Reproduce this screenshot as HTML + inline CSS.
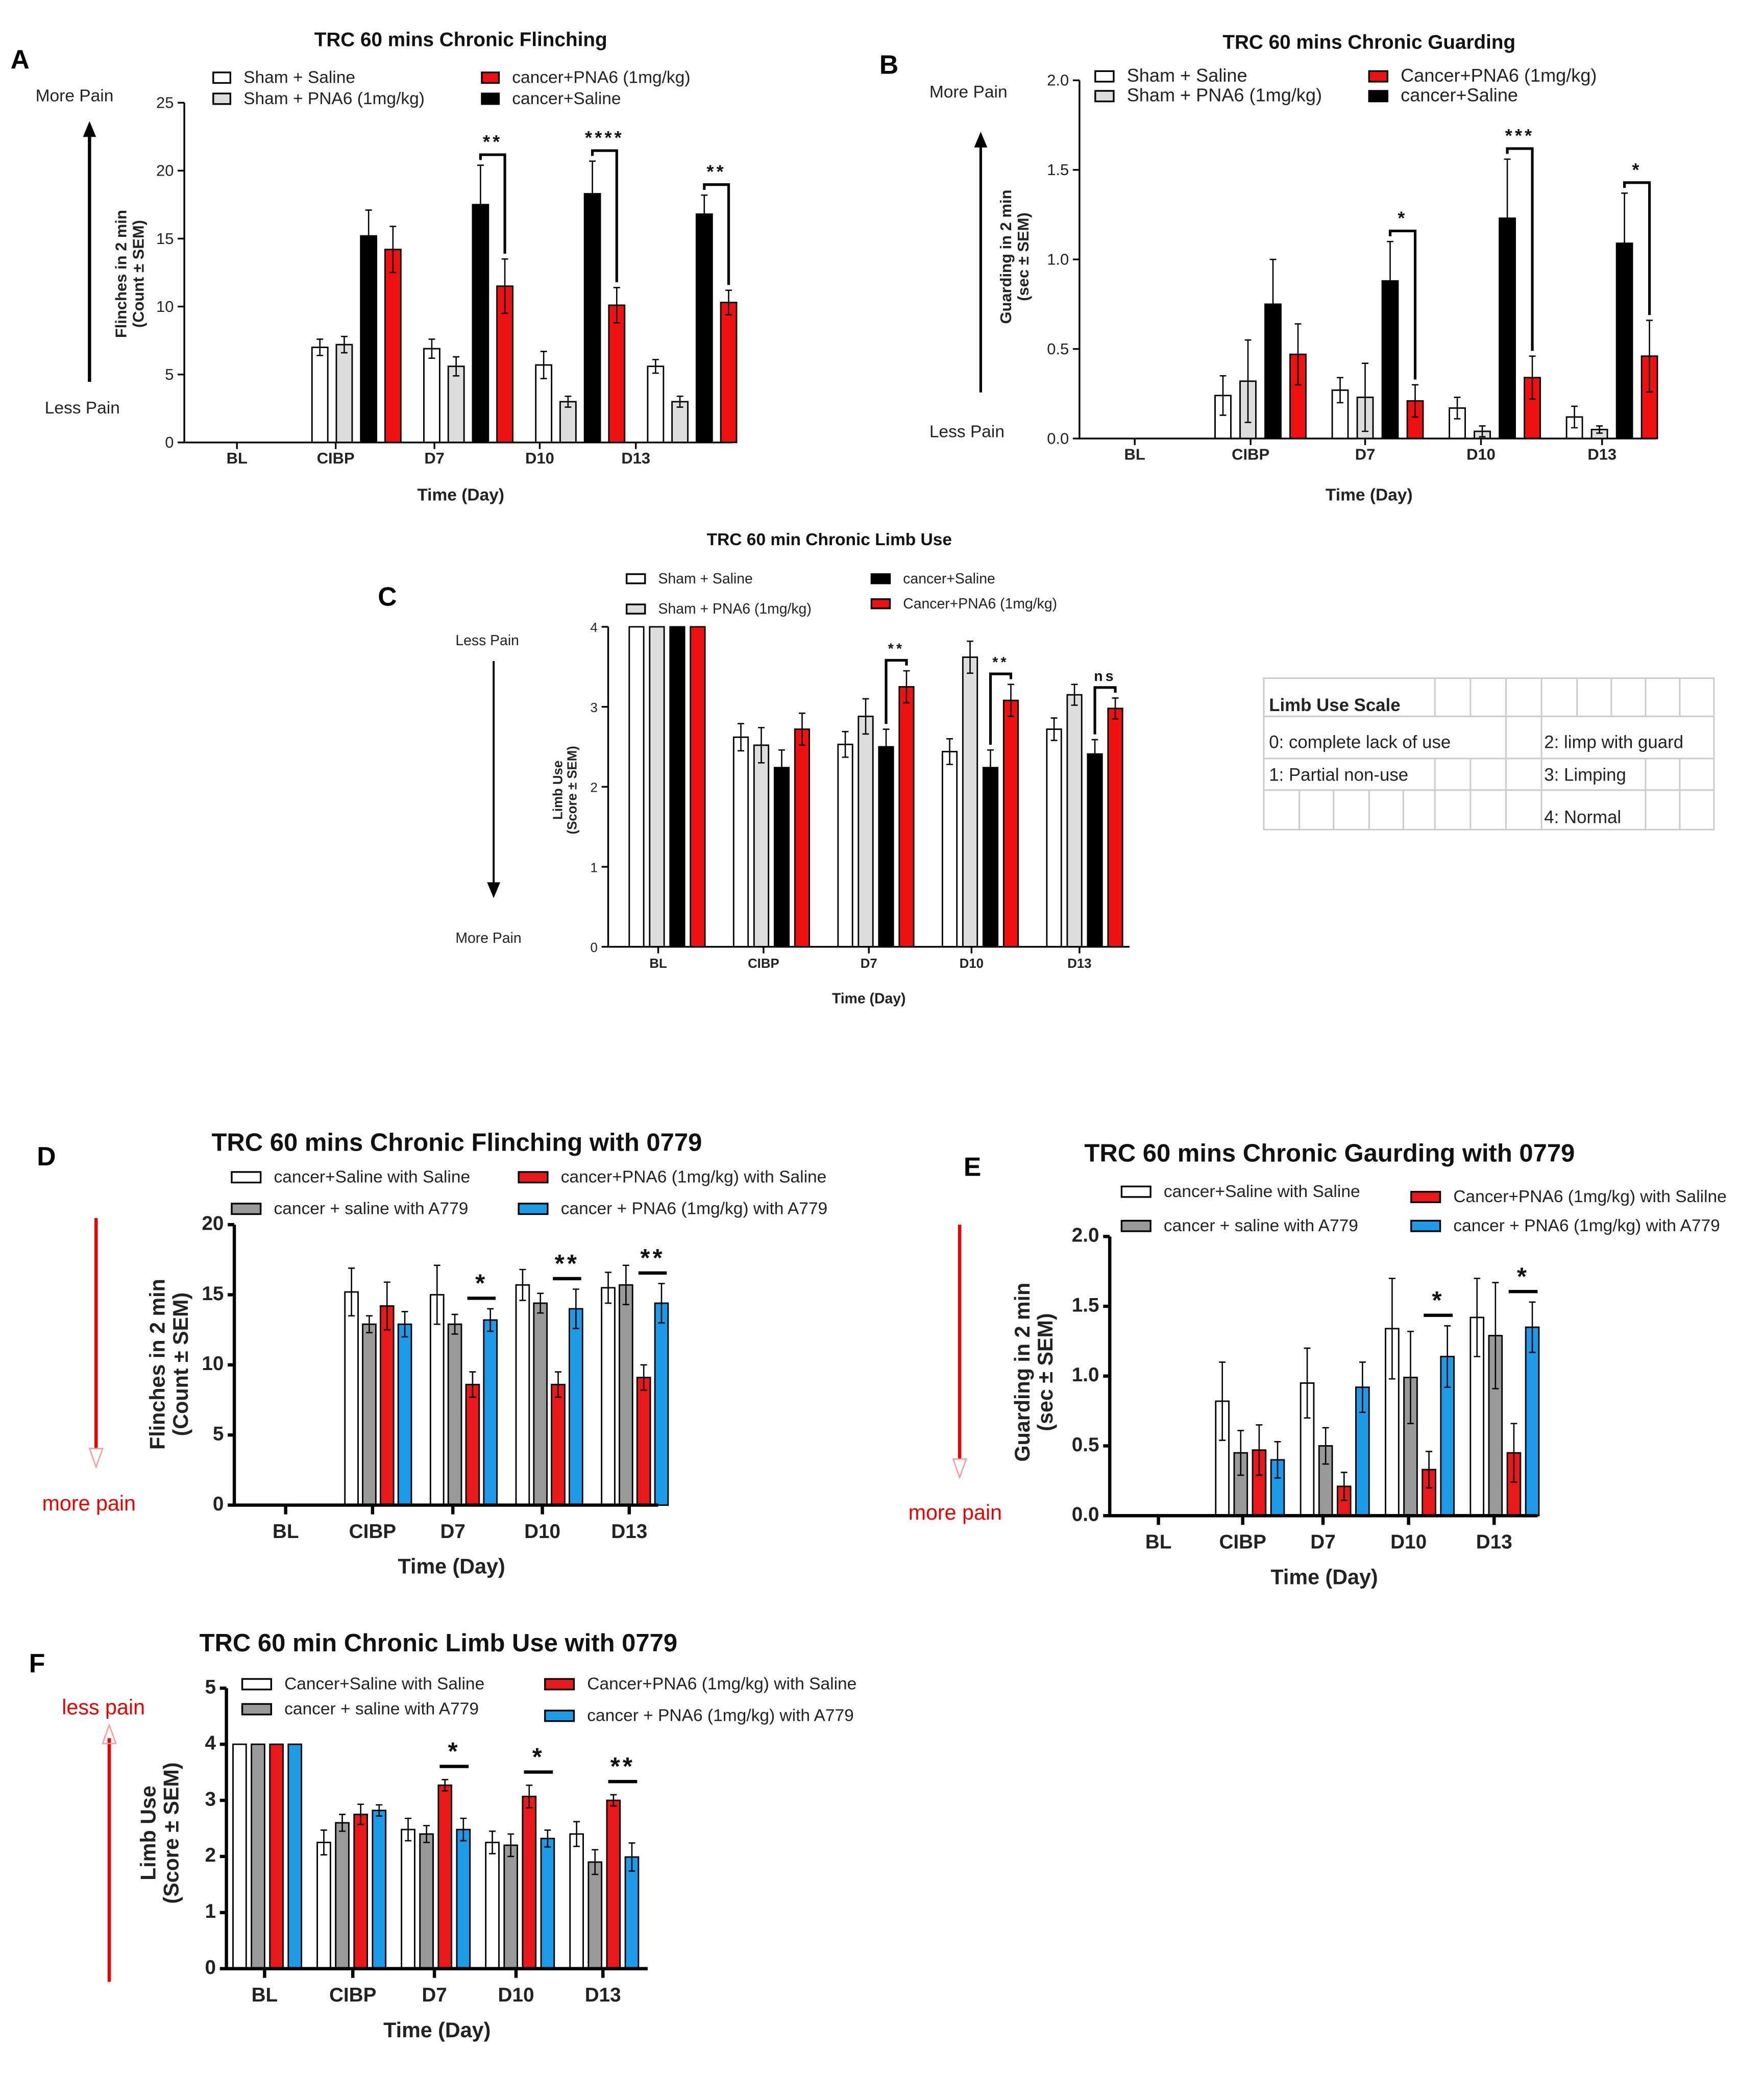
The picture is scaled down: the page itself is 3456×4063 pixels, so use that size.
<!DOCTYPE html>
<html><head><meta charset="utf-8"><style>
html,body{margin:0;padding:0;background:#fff;}
svg{display:block;}
text{font-family:"Liberation Sans",Arial,sans-serif;}
</style></head><body>
<svg id="fig" width="3456" height="4063" viewBox="0 0 1340 1575" preserveAspectRatio="none" xmlns="http://www.w3.org/2000/svg">
<g font-weight="bold" font-size="20">
<text x="8" y="52">A</text>
<text x="668" y="56">B</text>
<text x="287" y="460">C</text>
<text x="28" y="885">D</text>
<text x="732" y="893">E</text>
<text x="22" y="1270">F</text>
</g>
<g font-size="13" fill="#222">
<text x="27" y="77">More  Pain</text>
<line x1="68" y1="290" x2="68" y2="100" stroke="#000" stroke-width="2.5"/><polygon points="63,104 73,104 68,92" fill="#000"/>
<text x="34" y="314">Less Pain</text>
<text x="706" y="74">More  Pain</text>
<line x1="745" y1="298" x2="745" y2="108" stroke="#000" stroke-width="2"/><polygon points="740,112 750,112 745,100" fill="#000"/>
<text x="706" y="332">Less Pain</text>
<text x="346" y="490" font-size="11">Less Pain</text>
<line x1="375" y1="502" x2="375" y2="674" stroke="#000" stroke-width="1.5"/><polygon points="370,670 380,670 375,682" fill="#000"/>
<text x="346" y="716" font-size="11">More Pain</text>
<line x1="73" y1="925" x2="73" y2="1100" stroke="#e00" stroke-width="2.5"/><polygon points="68,1100 78,1100 73,1114" fill="none" stroke="#f99"/>
<text x="32" y="1147" fill="#e00" font-size="16">more pain</text>
<line x1="729" y1="930" x2="729" y2="1108" stroke="#e00" stroke-width="2.5"/><polygon points="724,1108 734,1108 729,1122" fill="none" stroke="#f99"/>
<text x="690" y="1154" fill="#e00" font-size="16">more pain</text>
<text x="47" y="1302" fill="#e00" font-size="16">less pain</text>
<line x1="83" y1="1320" x2="83" y2="1505" stroke="#e00" stroke-width="2.5"/><polygon points="78,1324 88,1324 83,1310" fill="none" stroke="#f99"/>
</g>
<g stroke="#ccc" stroke-width="1.2" fill="none">
<rect x="960" y="515" width="342" height="115"/>
<line x1="960" y1="544" x2="1302" y2="544"/><line x1="960" y1="576" x2="1302" y2="576"/><line x1="960" y1="600" x2="1302" y2="600"/>
<line x1="1090" y1="515" x2="1090" y2="544"/><line x1="1117" y1="515" x2="1117" y2="544"/><line x1="1144" y1="515" x2="1144" y2="630"/><line x1="1171" y1="515" x2="1171" y2="630"/>
<line x1="1198" y1="515" x2="1198" y2="544"/><line x1="1224" y1="515" x2="1224" y2="544"/><line x1="1250" y1="515" x2="1250" y2="544"/><line x1="1276" y1="515" x2="1276" y2="544"/>
<line x1="1250" y1="576" x2="1250" y2="630"/><line x1="1276" y1="576" x2="1276" y2="630"/><line x1="1090" y1="576" x2="1090" y2="630"/><line x1="1117" y1="576" x2="1117" y2="630"/>
<line x1="987" y1="600" x2="987" y2="630"/><line x1="1013" y1="600" x2="1013" y2="630"/><line x1="1040" y1="600" x2="1040" y2="630"/><line x1="1066" y1="600" x2="1066" y2="630"/>
</g>
<g font-size="13.5" fill="#222">
<text x="964" y="540" font-weight="bold">Limb Use Scale</text>
<text x="964" y="568">0: complete lack of use</text>
<text x="1173" y="568">2: limp with guard</text>
<text x="964" y="593">1: Partial non-use</text>
<text x="1173" y="593">3: Limping</text>
<text x="1173" y="625">4: Normal</text>
</g>
<g id="charts"></g>
</svg>
<script>
const catsA = ["BL","CIBP","D7","D10","D13"];
const valsA = [[0,7.0,6.9,5.7,5.6],[0,7.2,5.6,3.0,3.0],[0,15.2,17.5,18.3,16.8],[0,14.2,11.5,10.1,10.3]];
const errsA = [[0,0.6,0.7,1.0,0.5],[0,0.6,0.7,0.4,0.4],[0,1.9,2.9,2.4,1.4],[0,1.7,2.0,1.3,0.9]];
const ticksA = [0,5,10,15,20,25];
const namesA = ["Sham + Saline","Sham + PNA6 (1mg/kg)","cancer+Saline","cancer+PNA6 (1mg/kg)"];
const sigA = ["","","**","****","**"];
const catsB = ["BL","CIBP","D7","D10","D13"];
const valsB = [[0,0.24,0.27,0.17,0.12],[0,0.32,0.23,0.04,0.05],[0,0.75,0.88,1.23,1.09],[0,0.47,0.21,0.34,0.46]];
const errsB = [[0,0.11,0.07,0.06,0.06],[0,0.23,0.19,0.03,0.02],[0,0.25,0.22,0.33,0.28],[0,0.17,0.09,0.12,0.2]];
const ticksB = [0.0,0.5,1.0,1.5,2.0];
const namesB = ["Sham + Saline","Sham + PNA6 (1mg/kg)","cancer+Saline","Cancer+PNA6 (1mg/kg)"];
const sigB = ["","","*","***","*"];
const catsC = ["BL","CIBP","D7","D10","D13"];
const valsC = [[4,2.62,2.53,2.44,2.72],[4,2.52,2.88,3.62,3.15],[4,2.24,2.5,2.24,2.41],[4,2.72,3.25,3.08,2.98]];
const errsC = [[0,0.17,0.16,0.16,0.14],[0,0.22,0.22,0.2,0.13],[0,0.22,0.22,0.22,0.18],[0,0.2,0.2,0.2,0.13]];
const ticksC = [0,1,2,3,4];
const namesC = ["Sham + Saline","Sham + PNA6 (1mg/kg)","cancer+Saline","Cancer+PNA6 (1mg/kg)"];
const sigC = ["","","**","**","ns"];
const catsD = ["BL","CIBP","D7","D10","D13"];
const valsD = [[0,15.2,15.0,15.7,15.5],[0,12.9,12.9,14.4,15.7],[0,14.2,8.6,8.6,9.1],[0,12.9,13.2,14.0,14.4]];
const errsD = [[0,1.7,2.1,1.1,1.1],[0,0.6,0.7,0.7,1.4],[0,1.7,0.9,0.9,0.9],[0,0.9,0.8,1.4,1.4]];
const ticksD = [0,5,10,15,20];
const namesD = ["cancer+Saline with Saline","cancer + saline with A779","cancer+PNA6 (1mg/kg) with Saline","cancer + PNA6 (1mg/kg) with A779"];
const sigD = ["","","*","**","**"];
const catsE = ["BL","CIBP","D7","D10","D13"];
const valsE = [[0,0.82,0.95,1.34,1.42],[0,0.45,0.5,0.99,1.29],[0,0.47,0.21,0.33,0.45],[0,0.4,0.92,1.14,1.35]];
const errsE = [[0,0.28,0.25,0.36,0.28],[0,0.16,0.13,0.33,0.38],[0,0.18,0.1,0.13,0.21],[0,0.13,0.18,0.22,0.18]];
const ticksE = [0.0,0.5,1.0,1.5,2.0];
const namesE = ["cancer+Saline with Saline","cancer + saline with A779","Cancer+PNA6 (1mg/kg) with Salilne","cancer + PNA6 (1mg/kg) with A779"];
const sigE = ["","","","*","*"];
const catsF = ["BL","CIBP","D7","D10","D13"];
const valsF = [[4,2.25,2.48,2.25,2.4],[4,2.6,2.4,2.2,1.9],[4,2.75,3.27,3.07,3.0],[4,2.82,2.48,2.32,1.99]];
const errsF = [[0,0.22,0.2,0.2,0.22],[0,0.15,0.15,0.2,0.22],[0,0.18,0.1,0.2,0.1],[0,0.1,0.2,0.15,0.25]];
const ticksF = [0,1,2,3,4,5];
const namesF = ["Cancer+Saline with Saline","cancer + saline with A779","Cancer+PNA6 (1mg/kg) with Saline","cancer + PNA6 (1mg/kg) with A779"];
const sigF = ["","","*","*","**"];

const NS="http://www.w3.org/2000/svg";
const root=document.getElementById('charts');
function mk(tag,attrs,parent){const e=document.createElementNS(NS,tag);for(const k in attrs)e.setAttribute(k,attrs[k]);(parent||root).appendChild(e);return e;}

function chart(cfg){
  const g=mk('g',{});
  
  
  const ymax=cfg.ticks[cfg.ticks.length-1];
  const y=v=>cfg.y0-(v/ymax)*(cfg.y0-cfg.yTop);
  const groupX=i=>cfg.g0+i*cfg.gStep;
  const barX=(i,s)=>groupX(i)+s*cfg.bStep;
  const sw=cfg.bold?2.5:1.3;
  const t=mk('text',{x:cfg.titleX,y:cfg.titleY,'font-size':cfg.titleSize,'font-weight':'bold','text-anchor':'middle',fill:'#111'},g);
  t.textContent=cfg.title;
  
  
  cfg.vals.forEach((ser,s)=>{ser.forEach((v,i)=>{
    if(v<=0) return;
    const x=barX(i,s);
    const r=mk('rect',{x:x,y:y(v),width:cfg.bw,height:cfg.y0-y(v),fill:cfg.colors[s],stroke:'#000','stroke-width':1.1},g);
    
    
    const e=cfg.errs[s][i];
    if(e>0){const cx=x+cfg.bw/2;
      const l=mk('path',{d:`M${cx},${y(v-e)}V${y(v+e)}M${cx-2.5},${y(v+e)}H${cx+2.5}M${cx-2.5},${y(v-e)}H${cx+2.5}`,stroke:'#000','stroke-width':1,fill:'none'},g);
      
      }
  });});
  const ax=mk('path',{d:`M${cfg.ax},${cfg.yTop}V${cfg.y0}H${cfg.xEnd}`,stroke:'#000','stroke-width':sw,fill:'none'},g);
  
  
  cfg.ticks.forEach(tv=>{
    mk('line',{x1:cfg.ax-5,x2:cfg.ax,y1:y(tv),y2:y(tv),stroke:'#000','stroke-width':sw},g);
    const tt=mk('text',{x:cfg.ax-8,y:y(tv)+4,'font-size':cfg.tickSize,'text-anchor':'end','font-weight':cfg.bold?'bold':'normal',fill:'#222'},g);
    tt.textContent=cfg.dec?tv.toFixed(1):tv;
    
    
  });
  cfg.cats.forEach((c,i)=>{
    const cx=cfg.labX[i];
    mk('line',{x1:cx,x2:cx,y1:cfg.y0,y2:cfg.y0+(cfg.bold?7:5),stroke:'#000','stroke-width':sw},g);
    const tt=mk('text',{x:cx,y:cfg.y0+(cfg.bold?25:16),'font-size':cfg.catSize,'font-weight':'bold','text-anchor':'middle',fill:'#222'},g);
    tt.textContent=c;
    
    
  });
  const xt=mk('text',{x:cfg.xtX,y:cfg.xtY,'font-size':cfg.xtSize,'font-weight':'bold','text-anchor':'middle',fill:'#222'},g);
  xt.textContent='Time '+(cfg.bold?'':' ')+'(Day)';
  
  
  const yt=mk('text',{transform:`translate(${cfg.ytX},${cfg.ytY}) rotate(-90)`,'font-size':cfg.ytSize,'font-weight':'bold','text-anchor':'middle',fill:'#222'},g);
  
  
  const s1=mk('tspan',{x:0,dy:0},yt);s1.textContent=cfg.yt1;
  const s2=mk('tspan',{x:0,dy:cfg.ytSize*1.1},yt);s2.textContent=cfg.yt2;
  cfg.legPos.forEach((p,s)=>{
    const r=mk('rect',{x:p[0],y:p[1]-cfg.legH+2,width:cfg.legW,height:cfg.legH-2,fill:cfg.colors[s],stroke:'#000','stroke-width':1.3},g);
    
    
    const tt=mk('text',{x:p[0]+cfg.legW+10,y:p[1],'font-size':cfg.legSize,fill:'#222'},g);
    tt.textContent=cfg.names[s];
    
    
  });
  cfg.sig.forEach((sg,i)=>{
    if(!sg) return;
    const [a,b]=cfg.sigPair;
    const x1=barX(i,a)+cfg.bw/2, x2=barX(i,b)+cfg.bw/2;
    const top=Math.max(cfg.vals[a][i]+cfg.errs[a][i],cfg.vals[b][i]+cfg.errs[b][i]);
    const yb=y(top)-cfg.sigGap;
    let d;
    if(cfg.bracket){d=`M${x1},${y(cfg.vals[a][i]+cfg.errs[a][i])-4}V${yb}H${x2}V${y(cfg.vals[b][i]+cfg.errs[b][i])-4}`;}
    else{d=`M${x1-4},${yb}H${x2+4}`;}
    const l=mk('path',{d:d,stroke:'#000','stroke-width':cfg.bracket?2:2.5,fill:'none'},g);
    
    
    const tt=mk('text',{x:(x1+x2)/2,y:yb-5,'font-size':cfg.sigSize,'font-weight':'bold','text-anchor':'middle',fill:'#111','letter-spacing':2},g);
    tt.textContent=sg;
    
    
  });
}

const C4=['#fff','#ddd','#000','#ee1111'];
const C4b=['#fff','#999','#e8191b','#1e9be6'];
chart({id:'chart-a-flinching',cats:catsA,vals:valsA,errs:errsA,ticks:ticksA,names:namesA,sig:sigA,colors:C4,
  y0:336,yTop:78,ax:140,xEnd:556,g0:152,gStep:85,bStep:18.5,bw:12,labX:[180,255,330,410,483],
  title:'TRC 60 mins Chronic Flinching',titleX:350,titleY:35,titleSize:15,tickSize:12,catSize:12,
  xtX:350,xtY:380,xtSize:13,ytX:96,ytY:208,ytSize:12,yt1:'Flinches in 2 min',yt2:'(Count ± SEM)',
  legPos:[[162,63],[162,79],[366,79],[366,63]],legW:13,legH:10,legSize:13,sigPair:[2,3],bracket:true,sigGap:8,sigSize:14});
chart({id:'chart-b-guarding',cats:catsB,vals:valsB,errs:errsB,ticks:ticksB,names:namesB,sig:sigB,colors:C4,dec:true,
  y0:333,yTop:61,ax:820,xEnd:1258,g0:834,gStep:89,bStep:19,bw:12,labX:[862,950,1037,1125,1217],
  title:'TRC 60 mins Chronic Guarding',titleX:1040,titleY:37,titleSize:15,tickSize:12,catSize:12,
  xtX:1040,xtY:380,xtSize:13,ytX:768,ytY:195,ytSize:12,yt1:'Guarding in 2 min',yt2:'(sec ± SEM)',
  legPos:[[832,62],[832,77],[1040,77],[1040,62]],legW:14,legH:10,legSize:14,sigPair:[2,3],bracket:true,sigGap:8,sigSize:14});
chart({id:'chart-c-limb-use',cats:catsC,vals:valsC,errs:errsC,ticks:ticksC,names:namesC,sig:sigC,colors:C4,
  y0:719,yTop:476,ax:462,xEnd:858,g0:478,gStep:79.3,bStep:15.5,bw:11,labX:[500,580,660,738,820],
  title:'TRC 60 min Chronic Limb Use',titleX:630,titleY:414,titleSize:13,tickSize:10,catSize:10,
  xtX:660,xtY:762,xtSize:11,ytX:427,ytY:600,ytSize:10,yt1:'Limb Use',yt2:'(Score ± SEM)',
  legPos:[[476,443],[476,466],[662,443],[662,462]],legW:14,legH:9,legSize:11,sigPair:[2,3],bracket:true,sigGap:8,sigSize:11});
chart({id:'chart-d-flinching-0779',cats:catsD,vals:valsD,errs:errsD,ticks:ticksD,names:namesD,sig:sigD,colors:C4b,bold:true,
  y0:1143,yTop:930,ax:178,xEnd:500,g0:197,gStep:65,bStep:13.5,bw:10,labX:[217,283,344,412,478],
  title:'TRC 60 mins Chronic Flinching with 0779',titleX:347,titleY:874,titleSize:19,tickSize:15,catSize:15,
  xtX:343,xtY:1195,xtSize:16,ytX:125,ytY:1036,ytSize:16,yt1:'Flinches in 2 min',yt2:'(Count ± SEM)',
  legPos:[[176,898],[176,922],[394,898],[394,922]],legW:22,legH:10,legSize:13,sigPair:[2,3],bracket:false,sigGap:8,sigSize:19});
chart({id:'chart-e-guarding-0779',cats:catsE,vals:valsE,errs:errsE,ticks:ticksE,names:namesE,sig:sigE,colors:C4b,dec:true,bold:true,
  y0:1151,yTop:939,ax:843,xEnd:1168,g0:859,gStep:64.5,bStep:14,bw:10,labX:[880,944,1005,1070,1135],
  title:'TRC 60 mins Chronic Gaurding with 0779',titleX:1010,titleY:882,titleSize:19,tickSize:15,catSize:15,
  xtX:1006,xtY:1203,xtSize:16,ytX:782,ytY:1042,ytSize:16,yt1:'Guarding in 2 min',yt2:'(sec ± SEM)',
  legPos:[[852,909],[852,935],[1072,913],[1072,935]],legW:22,legH:10,legSize:13,sigPair:[2,3],bracket:false,sigGap:8,sigSize:19});
chart({id:'chart-f-limb-use-0779',cats:catsF,vals:valsF,errs:errsF,ticks:ticksF,names:namesF,sig:sigF,colors:C4b,bold:true,
  y0:1495,yTop:1282,ax:172,xEnd:492,g0:177,gStep:64,bStep:14,bw:10,labX:[201,268,330,392,458],
  title:'TRC 60 min Chronic Limb Use with 0779',titleX:333,titleY:1254,titleSize:19,tickSize:15,catSize:15,
  xtX:332,xtY:1547,xtSize:16,ytX:118,ytY:1392,ytSize:16,yt1:'Limb Use',yt2:'(Score ± SEM)',
  legPos:[[184,1283],[184,1302],[414,1283],[414,1307]],legW:22,legH:10,legSize:13,sigPair:[2,3],bracket:false,sigGap:10,sigSize:19});
</script>
</body></html>
